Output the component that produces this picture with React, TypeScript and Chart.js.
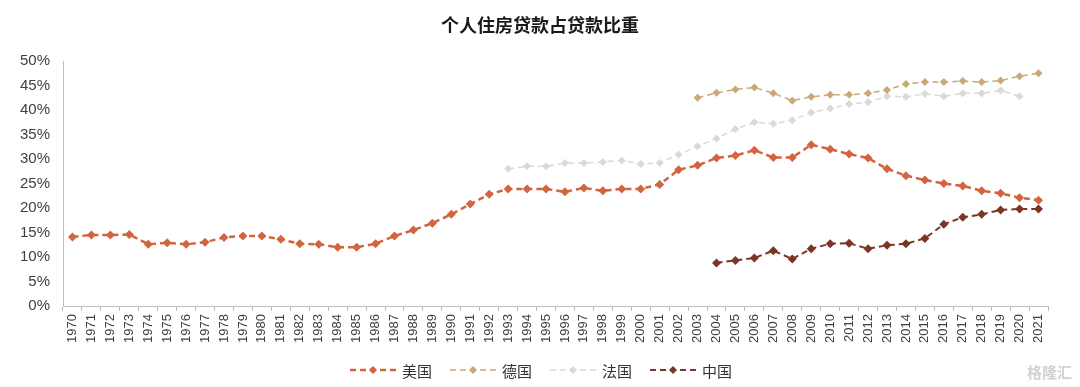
import React, { useEffect, useRef } from "react";
import { Chart, registerables } from "chart.js";

Chart.register(...registerables);

const years: string[] = [];
for (let y = 1970; y <= 2021; y++) years.push(String(y));

// values in percent, null where no data
const usValues: (number | null)[] = [
  14.1, 14.5, 14.5, 14.6, 12.6, 12.9, 12.6, 13.0, 14.0, 14.3,
  14.3, 13.6, 12.7, 12.6, 12.0, 12.0, 12.7, 14.3, 15.5, 16.9,
  18.7, 20.8, 22.8, 23.9, 23.9, 23.9, 23.3, 24.1, 23.5, 23.9,
  23.9, 24.8, 27.8, 28.7, 30.2, 30.7, 31.8, 30.3, 30.3, 32.9,
  32.0, 31.0, 30.2, 28.0, 26.6, 25.7, 25.0, 24.5, 23.5, 23.0,
  22.1, 21.6,
];

const germanyValues: (number | null)[] = [
  ...Array(33).fill(null),
  42.5, 43.5, 44.2, 44.6, 43.4, 41.9, 42.7, 43.1, 43.1, 43.4,
  44.1, 45.3, 45.7, 45.7, 45.9, 45.7, 46.0, 46.9, 47.5,
];

const franceValues: (number | null)[] = [
  ...Array(23).fill(null),
  28.0, 28.5, 28.5, 29.2, 29.2, 29.4, 29.7, 29.0, 29.2, 30.9,
  32.6, 34.2, 36.1, 37.5, 37.2, 37.9, 39.5, 40.3, 41.2, 41.6,
  42.8, 42.7, 43.3, 42.8, 43.4, 43.4, 44.0, 42.8, null,
];

const chinaValues: (number | null)[] = [
  ...Array(34).fill(null),
  8.8, 9.3, 9.8, 11.3, 9.6, 11.7, 12.7, 12.8, 11.7, 12.4,
  12.7, 13.8, 16.7, 18.1, 18.7, 19.6, 19.8, 19.8,
];

const seriesNames = ["美国", "德国", "法国", "中国"];
const seriesColors = ["#D2643F", "#CBA977", "#D9D9D9", "#7A3524"];
const seriesWidths = [2.5, 1.5, 1.5, 2];
const seriesRadii = [4.5, 4, 4, 4.5];

const titleText = "个人住房贷款占贷款比重";

const FONT = "Arial, 'Liberation Sans', 'Noto Sans CJK SC', sans-serif";
const CJK = "'Noto Sans CJK SC', sans-serif";

const legendPlugin = {
  id: "customLegendTitle",
  afterDraw(chart: any) {
    const ctx = chart.ctx as CanvasRenderingContext2D;
    ctx.save();
    // title
    ctx.fillStyle = "#1a1a1a";
    ctx.font = `bold 18px ${CJK}`;
    ctx.textAlign = "center";
    ctx.textBaseline = "middle";
    ctx.fillText(titleText, 540, 25);

    // legend
    const startX = 350;
    const step = 100;
    const ly = 370;
    chart.data.datasets.forEach((ds: any, i: number) => {
      const x0 = startX + i * step;
      ctx.strokeStyle = ds.borderColor;
      ctx.lineWidth = ds.borderWidth;
      ctx.setLineDash(ds.borderDash);
      ctx.beginPath();
      ctx.moveTo(x0, ly);
      ctx.lineTo(x0 + 46, ly);
      ctx.stroke();
      ctx.setLineDash([]);
      ctx.fillStyle = ds.pointBackgroundColor;
      const cx = x0 + 23;
      const r = 4;
      ctx.beginPath();
      ctx.moveTo(cx, ly - r);
      ctx.lineTo(cx + r, ly);
      ctx.lineTo(cx, ly + r);
      ctx.lineTo(cx - r, ly);
      ctx.closePath();
      ctx.fill();
      ctx.fillStyle = "#333333";
      ctx.font = `15px ${CJK}`;
      ctx.textAlign = "left";
      ctx.fillText(ds.label, x0 + 52, ly + 1);
    });

    // watermark
    ctx.fillStyle = "rgba(180,180,180,0.6)";
    ctx.font = `bold 15px ${CJK}`;
    ctx.textAlign = "left";
    ctx.fillText("格隆汇", 1027, 372);
    ctx.restore();
  },
};

export default function App() {
  const canvasRef = useRef<HTMLCanvasElement | null>(null);

  useEffect(() => {
    document.body.style.margin = "0";
    const canvas = canvasRef.current;
    if (!canvas) return;
    const allValues = [usValues, germanyValues, franceValues, chinaValues];
    const chart = new Chart(canvas, {
      type: "line",
      data: {
        labels: years,
        datasets: allValues.map((vals, i) => ({
          label: seriesNames[i],
          data: vals,
          borderColor: seriesColors[i],
          backgroundColor: seriesColors[i],
          pointBackgroundColor: seriesColors[i],
          pointBorderColor: seriesColors[i],
          borderWidth: seriesWidths[i],
          borderDash: [6, 4],
          pointStyle: "rectRot",
          pointRadius: seriesRadii[i],
          pointBorderWidth: 0,
          tension: 0,
          spanGaps: false,
          fill: false,
        })),
      },
      options: {
        animation: false,
        responsive: false,
        maintainAspectRatio: false,
        layout: { padding: { top: 61, left: 0, right: 32, bottom: 36 } },
        plugins: {
          legend: { display: false },
          title: { display: false },
          tooltip: { enabled: false },
        },
        scales: {
          x: {
            type: "category",
            offset: true,
            grid: {
              display: true,
              offset: true,
              drawOnChartArea: false,
              drawTicks: true,
              tickLength: 5,
              color: "#BFBFBF",
            },
            border: { display: true, color: "#BFBFBF", width: 1 },
            ticks: {
              autoSkip: false,
              maxRotation: 90,
              minRotation: 90,
              padding: 3,
              color: "#404040",
              font: { family: FONT, size: 13 },
            },
            afterFit(scale: any) {
              scale.height = 45;
            },
          },
          y: {
            min: 0,
            max: 50,
            grid: { display: false, drawTicks: false },
            border: { display: true, color: "#BFBFBF", width: 1 },
            ticks: {
              stepSize: 5,
              padding: 13,
              color: "#404040",
              font: { family: FONT, size: 15 },
              callback: (v: any) => `${v}%`,
            },
            afterFit(scale: any) {
              scale.width = 63;
            },
          },
        },
      },
      plugins: [legendPlugin],
    });
    return () => chart.destroy();
  }, []);

  return (
    <div style={{ position: "absolute", left: 0, top: 0, width: 1080, height: 387, background: "#fff" }}>
      <canvas ref={canvasRef} width={1080} height={387} style={{ width: 1080, height: 387, display: "block" }} />
    </div>
  );
}
